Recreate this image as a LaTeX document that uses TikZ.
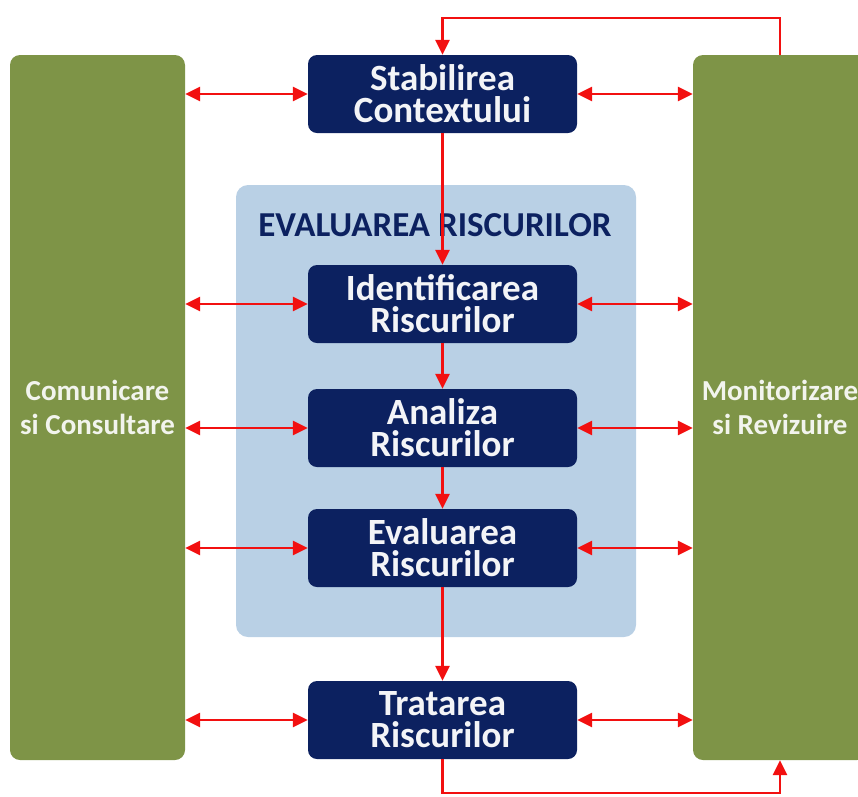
\documentclass[tikz,border=0pt]{standalone}
\usepackage{fontspec}
\setmainfont{Carlito}
\usetikzlibrary{positioning, arrows.meta}
\definecolor{olive}{HTML}{7E9447}
\definecolor{navy}{HTML}{0C2160}
\definecolor{pale}{HTML}{B9D0E5}
\definecolor{rline}{HTML}{F21010}
\tikzset{
  bar/.style={fill=olive, rounded corners=10pt, minimum height=705pt, inner sep=0pt,
              text=white!90!olive, align=center, font=\fontsize{29}{34}\selectfont\bfseries},
  blk/.style={fill=navy, rounded corners=9pt, minimum width=269pt, minimum height=78pt,
              inner sep=0pt, text=white!95!navy, align=center,
              font=\fontsize{37}{32}\selectfont\bfseries},
  zone/.style={fill=pale, rounded corners=12pt},
  arr/.style={draw=rline, line width=2.8pt, -{Triangle[length=15pt, width=14pt]}},
  darr/.style={arr, {Triangle[length=15pt, width=14pt]}-{Triangle[length=15pt, width=14pt]}},
}
\begin{document}
\begin{tikzpicture}[x=1pt, y=-1pt]
  \useasboundingbox (0,0) rectangle (858,796);
  % fundal evaluare
  \fill[zone] (236,185) rectangle (636,637);
  \node[text=navy, font=\fontsize{35}{38}\selectfont\bfseries] (ttl) at (435,225) {EVALUAREA RISCURILOR};
  % coloane laterale
  \node[bar, minimum width=175pt] (com) at (97.5,407.5) {Comunicare\\si Consultare};
  \node[bar, minimum width=174pt] (mon) at (780,407.5) {Monitorizare\\si Revizuire};
  % etape
  \node[blk] (ctx) at (442.5,94) {Stabilirea\\Contextului};
  \node[blk] (idn) at (442.5,304) {Identificarea\\Riscurilor};
  \node[blk] (ana) at (442.5,428) {Analiza\\Riscurilor};
  \node[blk] (evl) at (442.5,548) {Evaluarea\\Riscurilor};
  \node[blk] (trt) at (442.5,720) {Tratarea\\Riscurilor};
  \coordinate (top) at (0,18);
  \coordinate (bot) at (0,793);
  % legaturi
  \draw[arr] (ctx) -- (idn); \draw[arr] (idn) -- (ana);
  \draw[arr] (ana) -- (evl); \draw[arr] (evl) -- (trt);
  \foreach \n in {ctx, idn, ana, evl, trt} {
    \draw[darr] (com.east |- \n) -- (\n.west);
    \draw[darr] (\n.east) -- (mon.west |- \n);
  }
  \draw[arr] (mon.north) -- (mon.north |- top) -| (ctx.north);
  \draw[arr] (trt.south) -- (trt.south |- bot) -| (mon.south);
\end{tikzpicture}
\end{document}
